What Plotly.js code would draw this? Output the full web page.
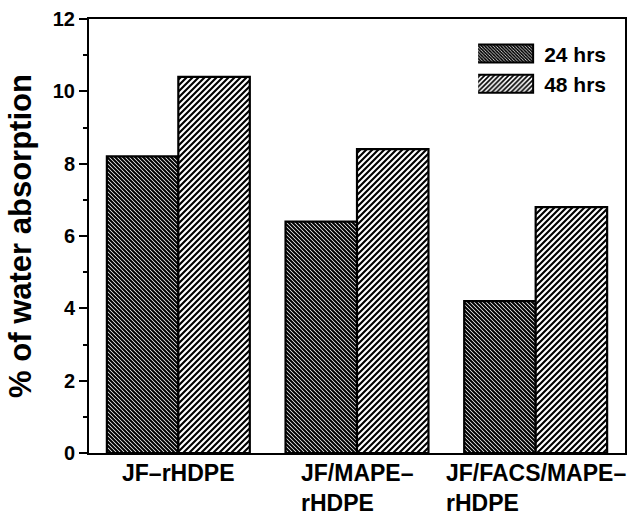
<!DOCTYPE html>
<html>
<head>
<meta charset="utf-8">
<script src="https://cdn.plot.ly/plotly-3.0.1.min.js"></script>
<style>body{margin:0;padding:0;background:#fff;}#chart{width:627px;height:517px;}</style>
</head>
<body>
<div id="chart"></div>
<script>
const categories = ["JF–rHDPE", "JF/MAPE–<br>rHDPE", "JF/FACS/MAPE–<br>rHDPE"];
const seriesNames = ["24 hrs", "48 hrs"];
const hrs24 = [8.2, 6.4, 4.2];
const hrs48 = [10.4, 8.4, 6.8];
const yTickVals = [0, 2, 4, 6, 8, 10, 12];
const yTickText = ["0", "2", "4", "6", "8", "10", "12"];

const FONT = "Liberation Sans, Arial, sans-serif";
const xIdx = categories.map((c, i) => i);

const traces = [
  {
    type: "bar", name: seriesNames[0], x: xIdx, y: hrs24,
    marker: {
      color: "white",
      line: {color: "black", width: 2.2},
      pattern: {shape: "\\", fgcolor: "black", bgcolor: "white", size: 2 * Math.SQRT2, solidity: 0.72, fillmode: "replace"}
    }
  },
  {
    type: "bar", name: seriesNames[1], x: xIdx, y: hrs48,
    marker: {
      color: "white",
      line: {color: "black", width: 2.2},
      pattern: {shape: "/", fgcolor: "black", bgcolor: "white", size: 3 * Math.SQRT2, solidity: 0.5, fillmode: "replace"}
    }
  }
];

const annotations = categories.map((c, i) => ({
  x: i, y: 0, xref: "x", yref: "y", text: "<b>" + c + "</b>", showarrow: false,
  xanchor: "center", yanchor: "top", yshift: -5, align: "left",
  font: {family: FONT, size: 23, color: "black"}
}));

const layout = {
  width: 627, height: 517,
  margin: {l: 89, r: 2, t: 19, b: 64},
  paper_bgcolor: "white", plot_bgcolor: "white",
  barmode: "group", bargap: 0.2, bargroupgap: 0,
  showlegend: true,
  legend: {
    x: 0.726, y: 0.967, xanchor: "left", yanchor: "top",
    bgcolor: "rgba(0,0,0,0)", itemwidth: 56, tracegroupgap: 0,
    font: {family: FONT, size: 21, color: "black", weight: "bold"}
  },
  xaxis: {
    range: [-0.5, 2.5], tickvals: xIdx, showticklabels: false, ticks: "",
    showline: true, linecolor: "black", linewidth: 2, mirror: true,
    showgrid: false, zeroline: false, fixedrange: true
  },
  yaxis: {
    range: [0, 12], tickvals: yTickVals, ticktext: yTickText.map(t => "<b>" + t + "</b>"),
    ticks: "outside", ticklen: 8, tickwidth: 2, tickcolor: "black",
    minor: {dtick: 1, ticks: "outside", ticklen: 4, tickwidth: 2, tickcolor: "black", showgrid: false},
    showline: true, linecolor: "black", linewidth: 2, mirror: true,
    showgrid: false, zeroline: false,
    tickfont: {family: FONT, size: 20, color: "black"},
    title: {text: "<b>% of water absorption</b>", standoff: 12, font: {family: FONT, size: 31, color: "black"}}
  },
  annotations: annotations
};

Plotly.newPlot("chart", traces, layout, {staticPlot: true}).then(function (gd) {
  const pts = gd.querySelectorAll(".legend g.legendpoints path");
  pts.forEach(function (p) {
    p.setAttribute("d", "M28,9H-28V-9H28Z");
    p.setAttribute("transform", "translate(27,0)");
    p.style.strokeWidth = "2px";
  });
});
</script>
</body>
</html>
